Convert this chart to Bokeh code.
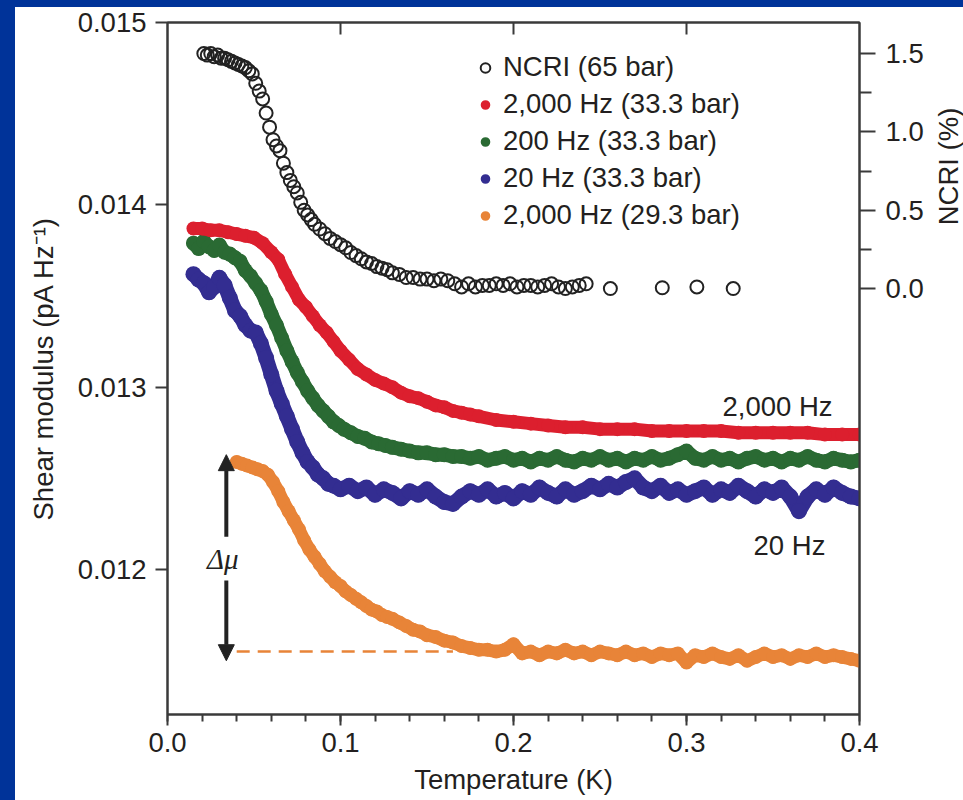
import math
from bokeh.plotting import figure
from bokeh.layouts import column, row
from bokeh.models import (Range1d, LinearAxis, FixedTicker, PrintfTickFormatter, Label,
                          Legend, LegendItem, Arrow, NormalHead, ColumnDataSource, Spacer)
from bokeh.embed import file_html
from bokeh.resources import INLINE

# ---------------- data ----------------
NCRI_T = [0.021, 0.023, 0.025, 0.027, 0.029, 0.031, 0.033, 0.035, 0.037, 0.039, 0.041, 0.043,
          0.045, 0.047, 0.049, 0.051, 0.053, 0.055, 0.057, 0.059, 0.061, 0.063, 0.065, 0.067,
          0.069, 0.071, 0.073, 0.075, 0.077, 0.079, 0.081, 0.083, 0.085, 0.088, 0.091, 0.094,
          0.097, 0.100, 0.103, 0.106, 0.109, 0.112, 0.115, 0.118, 0.121, 0.124, 0.127, 0.130,
          0.134, 0.138, 0.142, 0.146, 0.150, 0.154, 0.158, 0.162, 0.166, 0.170, 0.174, 0.178,
          0.182, 0.186, 0.190, 0.194, 0.198, 0.202, 0.206, 0.210, 0.214, 0.218, 0.222, 0.226,
          0.230, 0.234, 0.238, 0.242, 0.256, 0.286, 0.306, 0.327]
NCRI_V = [1.50, 1.49, 1.50, 1.48, 1.49, 1.47, 1.47, 1.46, 1.45, 1.44, 1.43, 1.42,
          1.41, 1.39, 1.37, 1.31, 1.26, 1.21, 1.12, 1.03, 0.95, 0.91, 0.88, 0.80,
          0.74, 0.69, 0.65, 0.61, 0.55, 0.50, 0.47, 0.44, 0.41, 0.38, 0.35, 0.32,
          0.30, 0.28, 0.26, 0.23, 0.21, 0.19, 0.17, 0.16, 0.14, 0.13, 0.12, 0.10,
          0.09, 0.07, 0.07, 0.06, 0.06, 0.05, 0.06, 0.05, 0.03, 0.01, 0.03, 0.01,
          0.02, 0.02, 0.03, 0.02, 0.03, 0.01, 0.02, 0.02, 0.01, 0.02, 0.03, 0.01,
          0.00, 0.01, 0.02, 0.03, 0.00, 0.005, 0.01, 0.00]

RED_T = [0.015, 0.020, 0.025, 0.030, 0.035, 0.040, 0.045, 0.050, 0.055, 0.060, 0.064, 0.068,
         0.072, 0.076, 0.080, 0.084, 0.088, 0.092, 0.096, 0.100, 0.105, 0.110, 0.115, 0.120,
         0.125, 0.130, 0.135, 0.140, 0.145, 0.150, 0.155, 0.160, 0.165, 0.170, 0.175, 0.180,
         0.190, 0.200, 0.210, 0.220, 0.230, 0.240, 0.250, 0.260, 0.270, 0.280, 0.290, 0.300,
         0.310, 0.320, 0.330, 0.340, 0.350, 0.360, 0.370, 0.380, 0.390, 0.400]
RED_V = [0.01387, 0.01387, 0.01386, 0.01386, 0.01385, 0.01384, 0.01383, 0.01382, 0.01379, 0.01374,
         0.01370, 0.01362, 0.01355, 0.01348, 0.01344, 0.01339, 0.01334, 0.01330, 0.01325, 0.01320,
         0.01315, 0.01310, 0.01307, 0.01304, 0.01302, 0.01300, 0.01297, 0.01295, 0.01294, 0.01292,
         0.01290, 0.01289, 0.01287, 0.01286, 0.01285, 0.01284, 0.01282, 0.01281, 0.01280, 0.01279,
         0.01278, 0.01278, 0.01277, 0.01277, 0.01277, 0.01276, 0.01276, 0.01276, 0.01276, 0.01276,
         0.01275, 0.01275, 0.01275, 0.01275, 0.01275, 0.01274, 0.01274, 0.01274]

GREEN_T = [0.015, 0.018, 0.021, 0.024, 0.027, 0.030, 0.033, 0.036, 0.039, 0.042, 0.045, 0.048,
           0.051, 0.054, 0.057, 0.060, 0.063, 0.066, 0.069, 0.072, 0.075, 0.078, 0.081, 0.084,
           0.087, 0.090, 0.093, 0.096, 0.099, 0.102, 0.106, 0.110, 0.114, 0.118, 0.122, 0.126,
           0.130, 0.135, 0.140, 0.145, 0.150, 0.155, 0.160, 0.165, 0.170, 0.175, 0.180, 0.185,
           0.190, 0.195, 0.200, 0.205, 0.210, 0.215, 0.220, 0.225, 0.230, 0.235, 0.240, 0.245,
           0.250, 0.255, 0.260, 0.265, 0.270, 0.275, 0.280, 0.285, 0.290, 0.295, 0.300, 0.305,
           0.310, 0.315, 0.320, 0.325, 0.330, 0.335, 0.340, 0.345, 0.350, 0.355, 0.360, 0.365,
           0.370, 0.375, 0.380, 0.385, 0.390, 0.395, 0.400]
GREEN_V = [0.01379, 0.01376, 0.01380, 0.01377, 0.01375, 0.01378, 0.01374, 0.01373, 0.01371, 0.01369,
           0.01364, 0.01361, 0.01357, 0.01353, 0.01347, 0.01340, 0.01334, 0.01327, 0.01320, 0.01314,
           0.01308, 0.01303, 0.01298, 0.01294, 0.01290, 0.01287, 0.01284, 0.01281, 0.01279, 0.01277,
           0.01275, 0.01273, 0.01272, 0.01270, 0.01269, 0.01268, 0.01267, 0.01266, 0.01265, 0.01264,
           0.01264, 0.01263, 0.01263, 0.01262, 0.01262, 0.01261, 0.01262, 0.01260, 0.01261, 0.01262,
           0.01260, 0.01261, 0.01259, 0.01261, 0.01260, 0.01262, 0.01260, 0.01259, 0.01261, 0.01260,
           0.01262, 0.01260, 0.01261, 0.01259, 0.01261, 0.01260, 0.01262, 0.01260, 0.01261, 0.01263,
           0.01265, 0.01261, 0.01260, 0.01262, 0.01260, 0.01261, 0.01259, 0.01261, 0.01262, 0.01260,
           0.01261, 0.01259, 0.01261, 0.01260, 0.01262, 0.01260, 0.01259, 0.01261, 0.01260, 0.01259,
           0.01260]

BLUE_T = [0.015, 0.018, 0.021, 0.024, 0.027, 0.030, 0.033, 0.036, 0.039, 0.042, 0.045, 0.048,
          0.051, 0.054, 0.057, 0.060, 0.063, 0.066, 0.069, 0.072, 0.075, 0.078, 0.081, 0.084,
          0.087, 0.090, 0.093, 0.096, 0.100, 0.105, 0.110, 0.115, 0.120, 0.125, 0.130, 0.135,
          0.140, 0.145, 0.150, 0.155, 0.160, 0.165, 0.170, 0.175, 0.180, 0.185, 0.190, 0.195,
          0.200, 0.205, 0.210, 0.215, 0.220, 0.225, 0.230, 0.235, 0.240, 0.245, 0.250, 0.255,
          0.260, 0.265, 0.270, 0.275, 0.280, 0.285, 0.290, 0.295, 0.300, 0.305, 0.310, 0.315,
          0.320, 0.325, 0.330, 0.335, 0.340, 0.345, 0.350, 0.355, 0.360, 0.365, 0.370, 0.375,
          0.380, 0.385, 0.390, 0.395, 0.400]
BLUE_V = [0.01362, 0.01359, 0.01357, 0.01352, 0.01355, 0.01360, 0.01356, 0.01349, 0.01342, 0.01339,
          0.01334, 0.01331, 0.01330, 0.01324, 0.01316, 0.01307, 0.01298, 0.01291, 0.01284, 0.01277,
          0.01270, 0.01264, 0.01259, 0.01256, 0.01252, 0.01250, 0.01247, 0.01246, 0.01244, 0.01246,
          0.01243, 0.01245, 0.01241, 0.01244, 0.01242, 0.01239, 0.01243, 0.01241, 0.01244, 0.01240,
          0.01237, 0.01236, 0.01240, 0.01243, 0.01241, 0.01244, 0.01240, 0.01242, 0.01239, 0.01243,
          0.01241, 0.01245, 0.01242, 0.01240, 0.01244, 0.01241, 0.01243, 0.01246, 0.01244, 0.01247,
          0.01245, 0.01248, 0.01250, 0.01245, 0.01243, 0.01246, 0.01242, 0.01244, 0.01241, 0.01243,
          0.01245, 0.01241, 0.01244, 0.01242, 0.01246, 0.01243, 0.01240, 0.01244, 0.01242, 0.01245,
          0.01240, 0.01232, 0.01240, 0.01244, 0.01241, 0.01245, 0.01242, 0.01240, 0.01239]

ORANGE_T = [0.040, 0.043, 0.046, 0.049, 0.052, 0.055, 0.058, 0.061, 0.064, 0.067, 0.070, 0.073,
            0.076, 0.079, 0.082, 0.085, 0.088, 0.091, 0.094, 0.097, 0.100, 0.103, 0.106, 0.109,
            0.112, 0.115, 0.118, 0.121, 0.124, 0.127, 0.130, 0.134, 0.138, 0.142, 0.146, 0.150,
            0.155, 0.160, 0.165, 0.170, 0.175, 0.180, 0.185, 0.190, 0.195, 0.200, 0.205, 0.210,
            0.215, 0.220, 0.225, 0.230, 0.235, 0.240, 0.245, 0.250, 0.255, 0.260, 0.265, 0.270,
            0.275, 0.280, 0.285, 0.290, 0.295, 0.300, 0.305, 0.310, 0.315, 0.320, 0.325, 0.330,
            0.335, 0.340, 0.345, 0.350, 0.355, 0.360, 0.365, 0.370, 0.375, 0.380, 0.385, 0.390,
            0.395, 0.400]
ORANGE_V = [0.01259, 0.01258, 0.01257, 0.01256, 0.01255, 0.01254, 0.01252, 0.01248, 0.01243, 0.01237,
            0.01232, 0.01227, 0.01222, 0.01216, 0.01211, 0.01207, 0.01203, 0.01199, 0.01196, 0.01193,
            0.01191, 0.01188, 0.01186, 0.01184, 0.01182, 0.01180, 0.01178, 0.01177, 0.01175, 0.01174,
            0.01173, 0.01171, 0.01169, 0.01167, 0.01166, 0.01164, 0.01163, 0.01161, 0.01160, 0.01158,
            0.01157, 0.01156, 0.01156, 0.01155, 0.01156, 0.01159, 0.01154, 0.01155, 0.01153, 0.01155,
            0.01154, 0.01156, 0.01154, 0.01155, 0.01153, 0.01155, 0.01154, 0.01153, 0.01155, 0.01153,
            0.01154, 0.01152, 0.01154, 0.01153, 0.01154, 0.01149, 0.01153, 0.01152, 0.01154, 0.01152,
            0.01151, 0.01153, 0.01150, 0.01152, 0.01154, 0.01152, 0.01153, 0.01151, 0.01153, 0.01152,
            0.01154, 0.01152, 0.01153, 0.01152, 0.01151, 0.01150]

BASELINE_V = 0.01155          # level of the dashed line (low-T end of the orange curve)
BASELINE_T = [0.040, 0.165]
ARROW_T = 0.034
ARROW_TOP = 0.01263
ARROW_BOTTOM = 0.01150
ARROW_GAP = [0.01218, 0.01194]

X_TICKS = [0.0, 0.1, 0.2, 0.3, 0.4]
X_MINOR = [round(0.02 * i, 2) for i in range(21)]
Y_TICKS = [0.012, 0.013, 0.014, 0.015]
NCRI_TICKS = [0.0, 0.5, 1.0, 1.5]
NCRI_MINOR = [0.25, 0.75, 1.25]

LABELS = ["NCRI (65 bar)", "2,000 Hz (33.3 bar)", "200 Hz (33.3 bar)",
          "20 Hz (33.3 bar)", "2,000 Hz (29.3 bar)"]

# ---------------- styling ----------------
FONT = "Liberation Sans"
TXT = "#231f20"
AX = "#3a3a3a"
RED, GREEN, BLUE, ORANGE, BLACK = "#dc1f2e", "#2a6a33", "#332d91", "#e88438", "#222222"
FS = "27.5px"
FRAME_BLUE = "#003399"

p = figure(width=915, height=793, x_range=Range1d(0, 0.4), y_range=Range1d(0.011205, 0.015),
           output_backend="svg", toolbar_location=None,
           min_border_left=152, min_border_right=71, min_border_top=15, min_border_bottom=86,
           background_fill_color="white", border_fill_color="white",
           outline_line_color=AX, outline_line_width=2)
p.extra_y_ranges = {"ncri": Range1d(-2.719, 1.698)}
p.xgrid.visible = False
p.ygrid.visible = False

def style_axis(ax):
    ax.axis_line_color = AX
    ax.axis_line_width = 2
    ax.major_tick_line_color = AX
    ax.major_tick_line_width = 2
    ax.minor_tick_line_color = AX
    ax.minor_tick_line_width = 2
    ax.major_label_text_font = FONT
    ax.major_label_text_font_size = FS
    ax.major_label_text_color = TXT
    ax.axis_label_text_font = FONT
    ax.axis_label_text_font_size = FS
    ax.axis_label_text_color = TXT
    ax.axis_label_text_font_style = "normal"

xa = p.xaxis[0]
style_axis(xa)
xa.ticker = FixedTicker(ticks=X_TICKS, minor_ticks=X_MINOR)
xa.formatter = PrintfTickFormatter(format="%.1f")
xa.major_tick_out = 11
xa.major_tick_in = 0
xa.minor_tick_out = 7
xa.minor_tick_in = 0
xa.major_label_standoff = 7
xa.axis_label = "Temperature (K)"
xa.axis_label_standoff = 9

ya = p.yaxis[0]
style_axis(ya)
ya.ticker = FixedTicker(ticks=Y_TICKS, minor_ticks=[])
ya.formatter = PrintfTickFormatter(format="%.3f")
ya.major_tick_out = 12
ya.major_tick_in = 0
ya.major_label_standoff = 9
ya.axis_label = "Shear modulus (pA Hz\u207b\u00b9)"
ya.axis_label_standoff = 16

ra = LinearAxis(y_range_name="ncri")
style_axis(ra)
ra.ticker = FixedTicker(ticks=NCRI_TICKS, minor_ticks=NCRI_MINOR)
ra.formatter = PrintfTickFormatter(format="%.1f")
ra.major_tick_out = 16
ra.major_tick_in = 0
ra.minor_tick_out = 12
ra.minor_tick_in = 0
ra.major_label_standoff = 10
p.add_layout(ra, "right")

ta = LinearAxis()
style_axis(ta)
ta.ticker = FixedTicker(ticks=[0.1, 0.2, 0.3], minor_ticks=[])
ta.major_tick_in = 12
ta.major_tick_out = 0
ta.major_label_text_font_size = "0px"
ta.major_label_standoff = 0
ta.major_label_overrides = {0.1: "", 0.2: "", 0.3: ""}
p.add_layout(ta, "above")

# ---------------- data marks ----------------
def band(t, v, color, width):
    src = ColumnDataSource(dict(x=t, y=v))
    p.line("x", "y", source=src, line_color=color, line_width=width, line_join="round", line_cap="round")
    return p.scatter("x", "y", source=src, size=width + 1, fill_color=color, line_color=color,
                     line_width=0)

r_orange = band(ORANGE_T, ORANGE_V, ORANGE, 13)
r_blue = band(BLUE_T, BLUE_V, BLUE, 15)
r_green = band(GREEN_T, GREEN_V, GREEN, 14)
r_red = band(RED_T, RED_V, RED, 13)

r_ncri = p.scatter(NCRI_T, NCRI_V, y_range_name="ncri", marker="circle", size=13,
                   fill_color=None, line_color=BLACK, line_width=2)

# dashed baseline and delta-mu arrow
p.line(BASELINE_T, [BASELINE_V, BASELINE_V], line_color=ORANGE, line_width=2.5, line_dash="13 8")
p.add_layout(Arrow(end=NormalHead(size=16, fill_color=BLACK, line_color=BLACK),
                   x_start=ARROW_T, y_start=ARROW_GAP[0], x_end=ARROW_T, y_end=ARROW_TOP,
                   line_color=BLACK, line_width=4))
p.add_layout(Arrow(end=NormalHead(size=16, fill_color=BLACK, line_color=BLACK),
                   x_start=ARROW_T, y_start=ARROW_GAP[1], x_end=ARROW_T, y_end=ARROW_BOTTOM,
                   line_color=BLACK, line_width=4))
p.add_layout(Label(x=ARROW_T - 0.002, y=(ARROW_GAP[0] + ARROW_GAP[1]) / 2, text="\u0394\u03bc",
                   text_font="Liberation Serif", text_font_style="italic", text_font_size="29px",
                   text_color=TXT, text_align="center", text_baseline="middle"))

# curve labels
p.add_layout(Label(x=0.3844, y=0.012894, text="2,000 Hz", text_font=FONT, text_font_size=FS,
                   text_color=TXT, text_align="right", text_baseline="middle"))
p.add_layout(Label(x=0.3803, y=0.012131, text="20 Hz", text_font=FONT, text_font_size=FS,
                   text_color=TXT, text_align="right", text_baseline="middle"))

# ---------------- legend ----------------
legend_renderers = [r_ncri, r_red, r_green, r_blue, r_orange]
legend = Legend(items=[LegendItem(label=l, renderers=[r], index=0)
                       for l, r in zip(LABELS, legend_renderers)],
                location=(306, 483), padding=0, margin=0, spacing=5,
                glyph_width=24, glyph_height=31, label_height=31, label_standoff=6,
                label_text_font=FONT, label_text_font_size=FS, label_text_color=TXT,
                border_line_alpha=0, background_fill_alpha=0)
p.add_layout(legend)

# ---------------- right-hand title "NCRI (%)" beside the NCRI scale ----------------
q = figure(width=33, height=793, x_range=Range1d(0, 33), y_range=Range1d(0, 793),
           output_backend="svg", toolbar_location=None, x_axis_location=None, y_axis_location=None,
           min_border=0, outline_line_color=None, background_fill_color="white",
           border_fill_color="white")
q.xgrid.visible = False
q.ygrid.visible = False
q.add_layout(Label(x=18, y=628, text="NCRI (%)", angle=math.pi / 2,
                   text_font=FONT, text_font_size=FS, text_color=TXT,
                   text_align="center", text_baseline="middle"))

# ---------------- blue frame of the slide ----------------
top_strip = Spacer(width=963, height=7, styles={"background-color": FRAME_BLUE})
left_strip = Spacer(width=15, height=793, styles={"background-color": FRAME_BLUE})
layout = column(top_strip, row(left_strip, p, q, spacing=0), spacing=0)

open("out.html", "w").write(file_html(layout, INLINE))
